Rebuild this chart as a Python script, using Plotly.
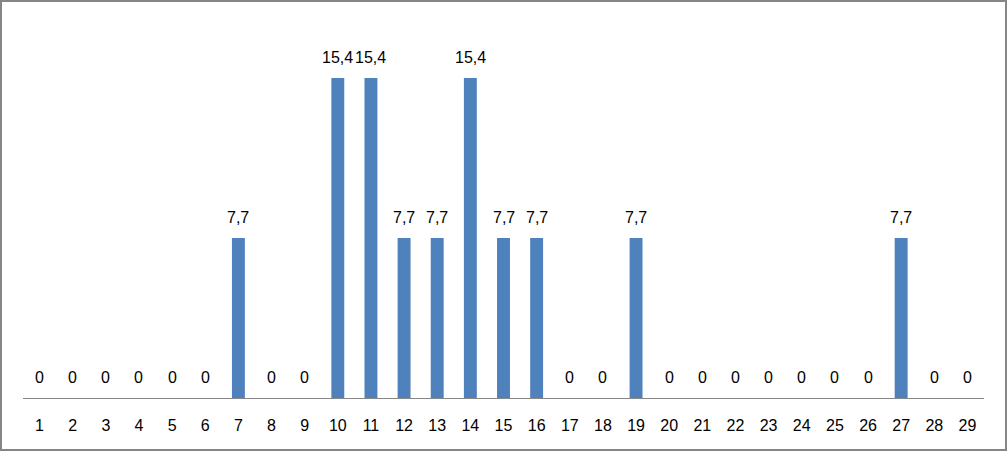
import plotly.graph_objects as go

categories = [str(i) for i in range(1, 30)]
values = [0, 0, 0, 0, 0, 0, 7.7, 0, 0, 15.4, 15.4, 7.7, 7.7, 15.4, 7.7, 7.7, 0, 0, 7.7,
          0, 0, 0, 0, 0, 0, 0, 7.7, 0, 0]
labels = [f"{v:g}".replace(".", ",") for v in values]

W, H = 1008, 452
ml, mr, mt, mb = 23, 24, 24, 54
pw, ph = W - ml - mr, H - mt - mb

fig = go.Figure(go.Bar(
    x=categories, y=values,
    marker=dict(color="#4F81BD", line=dict(width=0)),
    cliponaxis=False,
))

annotations = [dict(x=i, y=v, text=t, showarrow=False, xref="x", yref="y",
                    yanchor="middle", yshift=21,
                    font=dict(size=16, color="#000000", family="Liberation Sans"))
               for i, (v, t) in enumerate(zip(values, labels))]

def px(x):
    return (x - ml) / pw

def py(y):
    return (H - mb - y) / ph

fig.update_layout(
    width=W, height=H,
    margin=dict(l=ml, r=mr, t=mt, b=mb),
    paper_bgcolor="white", plot_bgcolor="white",
    bargap=0.61,
    showlegend=False,
    font=dict(family="Liberation Sans", size=16, color="#000000"),
    xaxis=dict(type="category", range=[-0.5, len(categories) - 0.5],
               showline=True, linecolor="#868686", linewidth=1,
               showgrid=False, zeroline=False, ticks="outside", ticklen=13,
               tickcolor="rgba(0,0,0,0)", tickfont=dict(size=16)),
    yaxis=dict(range=[0, 18], visible=False, showgrid=False, zeroline=False),
    annotations=annotations,
    shapes=[dict(type="rect", xref="paper", yref="paper",
                 x0=px(1), x1=px(1006), y0=py(450), y1=py(1),
                 line=dict(color="#868686", width=2), fillcolor="rgba(0,0,0,0)")],
)

fig.write_html("out.html", config={"displayModeBar": False},
               post_script="document.body.style.margin='0';document.body.style.overflow='hidden';")
